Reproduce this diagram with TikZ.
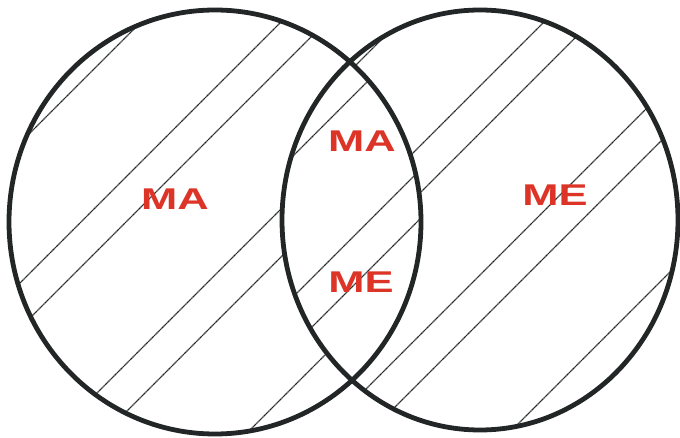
\documentclass[tikz,border=0pt]{standalone}
\usepackage{fontspec}
\newfontfamily\labelfont[FakeStretch=1.45]{Liberation Sans Bold}
\definecolor{labelred}{RGB}{221,52,40}
\definecolor{ink}{RGB}{35,38,38}

\begin{document}
\begin{tikzpicture}[x=1pt,y=-1pt,
 rim/.style={draw=ink,line width=4.8pt},
 hatch/.style={draw=ink,line width=1.1pt,dash pattern=on 1.2pt off 0.5pt},
 lbl/.style={text=labelred,font=\labelfont\fontsize{30}{30}\selectfont,inner sep=0pt}]
\useasboundingbox (0,0) rectangle (680,438);
\begin{scope}[even odd rule]
 \clip (215,222) ellipse [x radius=206pt,y radius=212pt];
 \clip (0,0) rectangle (680,438) (480,220) ellipse [x radius=198pt,y radius=210pt];
 \foreach \c in {163,303,348,490,538,680} \draw[hatch] ({\c-450},450) -- ({\c+20},-20);
\end{scope}
\begin{scope}
 \clip (215,222) ellipse [x radius=206pt,y radius=212pt];
 \clip (480,220) ellipse [x radius=198pt,y radius=210pt];
 \foreach \c in {449,590,639} \draw[hatch] ({\c-450},450) -- ({\c+20},-20);
\end{scope}
\begin{scope}[even odd rule]
 \clip (480,220) ellipse [x radius=198pt,y radius=210pt];
 \clip (0,0) rectangle (680,438) (215,222) ellipse [x radius=206pt,y radius=212pt];
 \foreach \c in {421,566,613,755,802,942} \draw[hatch] ({\c-450},450) -- ({\c+20},-20);
\end{scope}
\draw[rim] (215,222) ellipse [x radius=206pt,y radius=212pt];
\draw[rim] (480,220) ellipse [x radius=198pt,y radius=210pt];
\node[lbl] (maleft) at (175,199) {MA};
\node[lbl] (malens) at (362,141) {MA};
\node[lbl] (melens) at (361,282) {ME};
\node[lbl] (meright) at (555,195) {ME};
\end{tikzpicture}
\end{document}
